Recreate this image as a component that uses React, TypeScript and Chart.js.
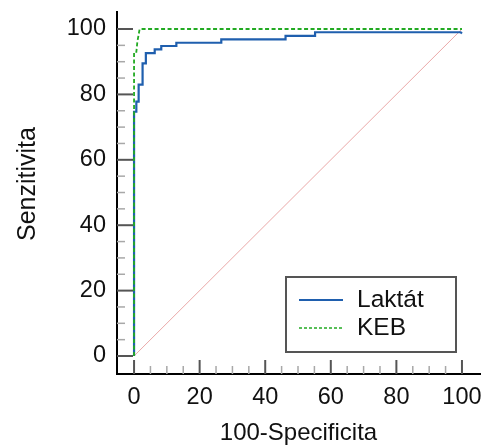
import { useEffect, useRef } from "react";
import { Chart, registerables } from "chart.js";

Chart.register(...registerables);

// ROC curve – Laktát (step points: 100-Specificita, Senzitivita)
const laktatX = [0, 0, 0.7, 0.7, 1.4, 1.4, 2.6, 2.6, 3.6, 3.6, 6.3, 6.3, 8.3, 8.3, 12.9, 12.9, 26.6, 26.6, 46.2, 46.2, 55.2, 55.2, 99.6, 100];
const laktatY = [0, 74.7, 74.7, 77.8, 77.8, 83.0, 83.0, 89.5, 89.5, 92.6, 92.6, 93.8, 93.8, 94.8, 94.8, 95.8, 95.8, 96.8, 96.8, 97.9, 97.9, 99.0, 99.0, 98.6];

// ROC curve – KEB
const kebX = [0, 0, 0.7, 1.0, 1.7, 100];
const kebY = [0, 93.0, 93.0, 96.0, 100, 100];

// reference diagonal
const diagX = [0, 100];
const diagY = [0, 100];

const majorTicks = [0, 20, 40, 60, 80, 100];
const minorTicks = [5, 10, 15, 25, 30, 35, 45, 50, 55, 65, 70, 75, 85, 90, 95];
const legendLabels = ["Laktát", "KEB"];
const xTitle = "100-Specificita";
const yTitle = "Senzitivita";

const FONT = "'Liberation Sans', Arial, sans-serif";
const BLUE = "#1f5fae";
const GREEN = "#22aa22";
const TEXT = "#111111";

const toPts = (xs: number[], ys: number[]) => xs.map((v, i) => ({ x: v, y: ys[i] }));

const zeroPad = (scale: any) => {
  scale.paddingTop = 0;
  scale.paddingBottom = 0;
  scale.paddingLeft = 0;
  scale.paddingRight = 0;
};

const innerTicks = {
  id: "innerTicks",
  beforeDatasetsDraw(chart: any) {
    const { ctx, chartArea } = chart;
    const xs = chart.scales.x;
    const ys = chart.scales.y;
    ctx.save();
    ctx.strokeStyle = "#a8a8a8";
    ctx.lineWidth = 1.5;
    for (const v of minorTicks) {
      const py = ys.getPixelForValue(v);
      ctx.beginPath();
      ctx.moveTo(chartArea.left, py);
      ctx.lineTo(chartArea.left + 8, py);
      ctx.stroke();
      const px = xs.getPixelForValue(v);
      ctx.beginPath();
      ctx.moveTo(px, chartArea.bottom);
      ctx.lineTo(px, chartArea.bottom - 8);
      ctx.stroke();
    }
    ctx.strokeStyle = "#555555";
    ctx.lineWidth = 2;
    for (const v of majorTicks) {
      const py = ys.getPixelForValue(v);
      ctx.beginPath();
      ctx.moveTo(chartArea.left, py);
      ctx.lineTo(chartArea.left + 16, py);
      ctx.stroke();
      const px = xs.getPixelForValue(v);
      ctx.beginPath();
      ctx.moveTo(px, chartArea.bottom);
      ctx.lineTo(px, chartArea.bottom - 14);
      ctx.stroke();
    }
    ctx.restore();
  },
};

const yTitlePlugin = {
  id: "yTitlePlugin",
  afterDraw(chart: any) {
    const { ctx } = chart;
    ctx.save();
    ctx.translate(28, 184);
    ctx.rotate(-Math.PI / 2);
    ctx.fillStyle = TEXT;
    ctx.font = `25px ${FONT}`;
    ctx.textAlign = "center";
    ctx.textBaseline = "middle";
    ctx.fillText(yTitle, 0, 0);
    ctx.restore();
  },
};

const boxLegend = {
  id: "boxLegend",
  afterDraw(chart: any) {
    const { ctx } = chart;
    ctx.save();
    ctx.strokeStyle = "#555555";
    ctx.lineWidth = 2;
    ctx.fillStyle = "#ffffff";
    ctx.fillRect(286, 277, 170, 75);
    ctx.strokeRect(286, 277, 170, 75);
    const rows = [
      { color: BLUE, dash: [] as number[], width: 2.2, y: 300 },
      { color: GREEN, dash: [3, 2], width: 1.6, y: 328 },
    ];
    rows.forEach((r, i) => {
      ctx.strokeStyle = r.color;
      ctx.lineWidth = r.width;
      ctx.setLineDash(r.dash);
      ctx.beginPath();
      ctx.moveTo(299, r.y);
      ctx.lineTo(343, r.y);
      ctx.stroke();
      ctx.setLineDash([]);
      ctx.fillStyle = TEXT;
      ctx.font = `24.5px ${FONT}`;
      ctx.textBaseline = "middle";
      ctx.textAlign = "left";
      ctx.fillText(legendLabels[i], 357, r.y);
    });
    ctx.restore();
  },
};

export default function App() {
  const ref = useRef<HTMLCanvasElement | null>(null);

  useEffect(() => {
    document.body.style.margin = "0";
    if (!ref.current) return;
    const chart = new Chart(ref.current, {
      type: "line",
      data: {
        datasets: [
          {
            label: legendLabels[1],
            data: toPts(kebX, kebY),
            borderColor: GREEN,
            borderWidth: 1.8,
            borderDash: [4, 2.5],
            pointRadius: 0,
            fill: false,
            tension: 0,
            order: 0,
          },
          {
            label: legendLabels[0],
            data: toPts(laktatX, laktatY),
            borderColor: BLUE,
            borderWidth: 2.2,
            pointRadius: 0,
            fill: false,
            tension: 0,
            order: 1,
          },
          {
            label: "ref",
            data: toPts(diagX, diagY),
            borderColor: "#eaa8a8",
            borderWidth: 1,
            pointRadius: 0,
            fill: false,
            order: 2,
          },
        ],
      },
      options: {
        animation: false,
        responsive: false,
        layout: { padding: { top: 12, right: 3, left: 0, bottom: 0 } },
        plugins: { legend: { display: false }, tooltip: { enabled: false } },
        scales: {
          x: {
            type: "linear",
            min: -5.2,
            max: 105.5,
            afterBuildTicks: (axis: any) => {
              axis.ticks = majorTicks.map((v) => ({ value: v }));
            },
            afterFit: (scale: any) => {
              scale.height = 71;
              zeroPad(scale);
            },
            grid: { display: false, drawTicks: false },
            border: { display: true, color: "#000000", width: 2 },
            ticks: {
              color: TEXT,
              font: { family: FONT, size: 23.5 },
              padding: 9,
              maxRotation: 0,
              autoSkip: false,
            },
            title: {
              display: true,
              text: xTitle,
              color: TEXT,
              font: { family: FONT, size: 24, lineHeight: 1 },
              padding: { top: 0, bottom: 0 },
            },
          },
          y: {
            type: "linear",
            min: -5.5,
            max: 105.2,
            afterBuildTicks: (axis: any) => {
              axis.ticks = majorTicks.map((v) => ({ value: v }));
            },
            afterFit: (scale: any) => {
              scale.width = 117;
              zeroPad(scale);
            },
            grid: { display: false, drawTicks: false },
            border: { display: true, color: "#000000", width: 2 },
            ticks: {
              color: TEXT,
              font: { family: FONT, size: 23.5 },
              padding: 11,
              autoSkip: false,
            },
            title: { display: false },
          },
        },
      },
      plugins: [innerTicks, boxLegend, yTitlePlugin],
    });
    return () => chart.destroy();
  }, []);

  return (
    <div style={{ width: 483, height: 445 }}>
      <canvas ref={ref} width={483} height={445} />
    </div>
  );
}
